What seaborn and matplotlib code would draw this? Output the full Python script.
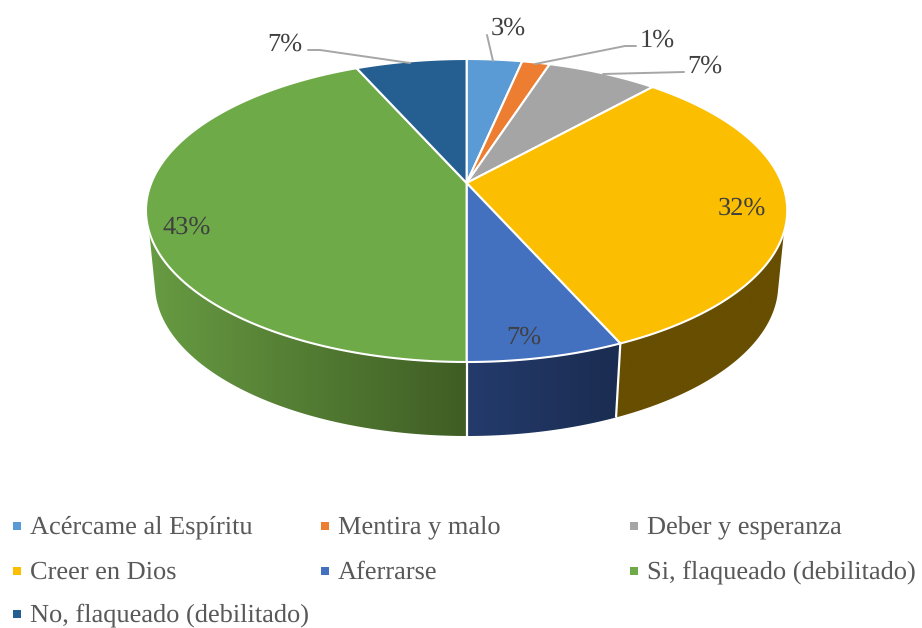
import matplotlib
matplotlib.use("Agg")
import matplotlib.pyplot as plt
from matplotlib.colors import LinearSegmentedColormap
from matplotlib.patches import Polygon
import numpy as np
import seaborn as sns

categories = ["Acércame al Espíritu", "Mentira y malo", "Deber y esperanza", "Creer en Dios",
              "Aferrarse", "Si, flaqueado (debilitado)", "No, flaqueado (debilitado)"]
counts = [2, 1, 4, 19, 4, 26, 4]
pct_labels = ["3%", "1%", "7%", "32%", "7%", "43%", "7%"]
colors = ["#5B9BD5", "#ED7D31", "#A5A5A5", "#FBBE00", "#4371C0", "#6EAA48", "#255E91"]

# front wall gradient per slice (left colour, right colour), only these are visible
wall_colors = {3: ("#674E00", "#674E00"), 4: ("#243B6C", "#1A2C50"), 5: ("#679B42", "#3F5D24")}

sns.set_theme(style="white")
plt.rcParams["font.family"] = ["Liberation Serif", "DejaVu Serif"]
plt.rcParams["text.hinting"] = "none"

fig = plt.figure(figsize=(9.22, 6.28), dpi=100)
ax = fig.add_axes([0, 0, 1, 1])


# tilted disc in perspective, theta clockwise from the top, result in pixels
def project(theta, drop=0, shrink=1.0):
    x = np.sin(np.radians(theta))
    t = np.cos(np.radians(theta))
    w = 1 + 0.1815 * t
    return 466.6 + 315.3 * shrink * x / w, (183 - 113.3 * t) / w + drop


edges = np.cumsum([0] + counts) / sum(counts) * 360
DEPTH = 74
SHRINK = 0.972

# walls first
for i, (c1, c2) in wall_colors.items():
    a0, a1 = edges[i], edges[i + 1]
    top = np.linspace(max(a0, 108.4), min(a1, 251.6), 80)
    low = np.linspace(max(a0, 102.5), min(a1, 257.5), 80)[::-1]
    tx, ty = project(top)
    lx, ly = project(low, DEPTH, SHRINK)
    pts = np.column_stack([np.r_[tx, lx], np.r_[ty, ly]])
    poly = Polygon(pts, closed=True, facecolor="none", edgecolor="none")
    ax.add_patch(poly)
    cmap = LinearSegmentedColormap.from_list("wall", [c1, c2])
    im = ax.imshow(np.linspace(0, 1, 256).reshape(1, -1), cmap=cmap, aspect="auto", interpolation="bilinear",
                   extent=[pts[:, 0].min(), pts[:, 0].max(), pts[:, 1].max(), pts[:, 1].min()])
    im.set_clip_path(poly)

# white seams between the wall pieces
for a in [edges[4], edges[5]]:
    sx, sy = project(a)
    ex, ey = project(a, DEPTH, SHRINK)
    ax.plot([sx, ex], [sy, ey], color="white", lw=1.6, solid_capstyle="butt")

# top face
cx, cy = 466.6, 183
for i in range(len(counts)):
    arc = np.linspace(edges[i], edges[i + 1], 120)
    ax_, ay_ = project(arc)
    ax.fill(np.r_[cx, ax_], np.r_[cy, ay_], facecolor=colors[i], edgecolor="white", lw=1.5, joinstyle="round")

# leader lines
leaders = [([308, 320, 410], [50, 50, 63]), ([487, 493], [35, 61]),
           ([636, 625, 535], [46, 46, 64]), ([684, 603], [72, 74])]
for lx, ly in leaders:
    ax.plot(lx, ly, color="#A6A6A6", lw=1.4)

# data labels
label_pos = [(508, 28), (657, 40), (705, 66), (742, 208), (524, 337), (187, 227), (285, 44)]
for s, (x, y) in zip(pct_labels, label_pos):
    ax.text(x, y, s, ha="center", va="center", fontsize=19, color="#404040")

# legend
leg_x = [17, 325, 634, 17, 325, 634, 17]
leg_y = [526, 526, 526, 571, 571, 571, 614]
sns.scatterplot(x=leg_x, y=leg_y, hue=categories, palette=colors, marker="s", s=36,
                linewidth=0, legend=False, ax=ax)
for s, x, y in zip(categories, leg_x, leg_y):
    ax.text(x + 13, y + 1, s, ha="left", va="center", fontsize=19, color="#595959")

ax.set_xlim(0, 922)
ax.set_ylim(628, 0)
ax.axis("off")
fig.savefig("out.png", dpi=100, facecolor="white")
